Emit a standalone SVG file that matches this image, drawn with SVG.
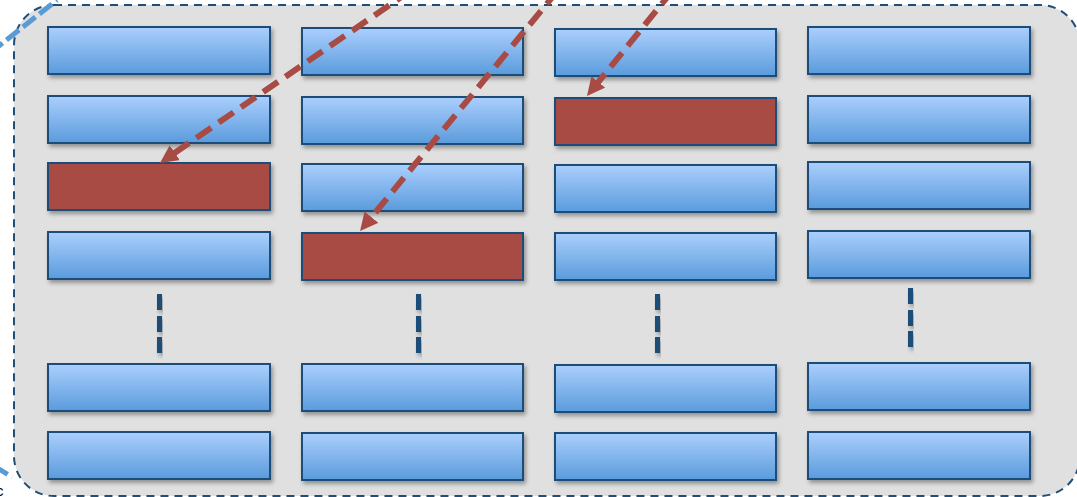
<svg xmlns="http://www.w3.org/2000/svg" width="1077" height="497" viewBox="0 0 1077 497">
  <defs>
    <linearGradient id="cellFill" x1="0" y1="0" x2="0" y2="1">
      <stop offset="0" stop-color="#abcffd"/>
      <stop offset="1" stop-color="#5a9bdc"/>
    </linearGradient>
    <filter id="shadow" x="-10%" y="-30%" width="120%" height="170%">
      <feDropShadow dx="2" dy="3" stdDeviation="2" flood-color="#000" flood-opacity="0.35"/>
    </filter>
    <marker id="redHead" markerUnits="userSpaceOnUse" markerWidth="18" markerHeight="18" refX="8" refY="9" orient="auto">
      <path d="M0,0 L18,9 L0,18 z" fill="#a84b45"/>
    </marker>
    <style>
      .cell { fill: url(#cellFill); stroke: #1f4e79; stroke-width: 2; filter: url(#shadow); }
      .hot { fill: #a84b45; stroke: #1f4e79; stroke-width: 2; filter: url(#shadow); }
      .gap { fill: #1f4e79; filter: url(#shadow); }
      .frame { fill: #e0e0e0; stroke: #1f4e79; stroke-width: 2; stroke-dasharray: 8 6; }
      .link { fill: none; stroke: #a84b45; stroke-width: 6; stroke-dasharray: 18 9; marker-end: url(#redHead); }
      .outer { fill: none; stroke: #5b9bd5; stroke-width: 5; stroke-dasharray: 16 5; }
    </style>
  </defs>

  <rect width="1077" height="497" fill="#ffffff"/>

  <!-- enclosing region -->
  <g id="region">
    <rect class="frame" x="14" y="5" width="1066" height="491" rx="40" ry="40"/>
  </g>

  <!-- lines coming in from outside the region -->
  <g id="outer-lines">
    <line class="outer" x1="-10" y1="53" x2="57" y2="0"/>
    <line class="outer" x1="-6" y1="466" x2="12" y2="477"/>
    <text x="-4" y="496" font-family="Liberation Sans, Arial, sans-serif" font-size="15" fill="#000">c</text>
  </g>

  <!-- column 1 -->
  <g id="col1">
    <rect class="cell" x="48" y="27" width="222" height="47"/>
    <rect class="cell" x="48" y="96" width="222" height="47"/>
    <rect class="hot" x="48" y="163" width="222" height="47"/>
    <rect class="cell" x="48" y="232" width="222" height="47"/>
    <rect class="gap" x="157" y="294" width="5" height="16"/>
    <rect class="gap" x="157" y="316" width="5" height="16"/>
    <rect class="gap" x="157" y="337" width="5" height="16"/>
    <rect class="cell" x="48" y="364" width="222" height="47"/>
    <rect class="cell" x="48" y="432" width="222" height="47"/>
  </g>

  <!-- column 2 -->
  <g id="col2">
    <rect class="cell" x="302" y="28" width="221" height="47"/>
    <rect class="cell" x="302" y="97" width="221" height="47"/>
    <rect class="cell" x="302" y="164" width="221" height="47"/>
    <rect class="hot" x="302" y="233" width="221" height="47"/>
    <rect class="gap" x="416" y="294" width="5" height="16"/>
    <rect class="gap" x="416" y="316" width="5" height="16"/>
    <rect class="gap" x="416" y="337" width="5" height="16"/>
    <rect class="cell" x="302" y="364" width="221" height="47"/>
    <rect class="cell" x="302" y="433" width="221" height="47"/>
  </g>

  <!-- column 3 -->
  <g id="col3">
    <rect class="cell" x="555" y="29" width="221" height="47"/>
    <rect class="hot" x="555" y="98" width="221" height="47"/>
    <rect class="cell" x="555" y="165" width="221" height="47"/>
    <rect class="cell" x="555" y="233" width="221" height="47"/>
    <rect class="gap" x="655" y="294" width="5" height="16"/>
    <rect class="gap" x="655" y="316" width="5" height="16"/>
    <rect class="gap" x="655" y="337" width="5" height="16"/>
    <rect class="cell" x="555" y="365" width="221" height="47"/>
    <rect class="cell" x="555" y="433" width="221" height="47"/>
  </g>

  <!-- column 4 -->
  <g id="col4">
    <rect class="cell" x="808" y="27" width="222" height="47"/>
    <rect class="cell" x="808" y="96" width="222" height="47"/>
    <rect class="cell" x="808" y="162" width="222" height="47"/>
    <rect class="cell" x="808" y="231" width="222" height="47"/>
    <rect class="gap" x="908" y="288" width="5" height="16"/>
    <rect class="gap" x="908" y="310" width="5" height="16"/>
    <rect class="gap" x="908" y="331" width="5" height="16"/>
    <rect class="cell" x="808" y="363" width="222" height="47"/>
    <rect class="cell" x="808" y="432" width="222" height="47"/>
  </g>

  <!-- connectors -->
  <g id="connectors">
    <line class="link" x1="411.5" y1="-10" x2="168.2" y2="157.3"/>
    <line class="link" x1="558.2" y1="-10" x2="366.4" y2="223.3"/>
    <line class="link" x1="673.1" y1="-10" x2="593.3" y2="88.2"/>
  </g>
</svg>
